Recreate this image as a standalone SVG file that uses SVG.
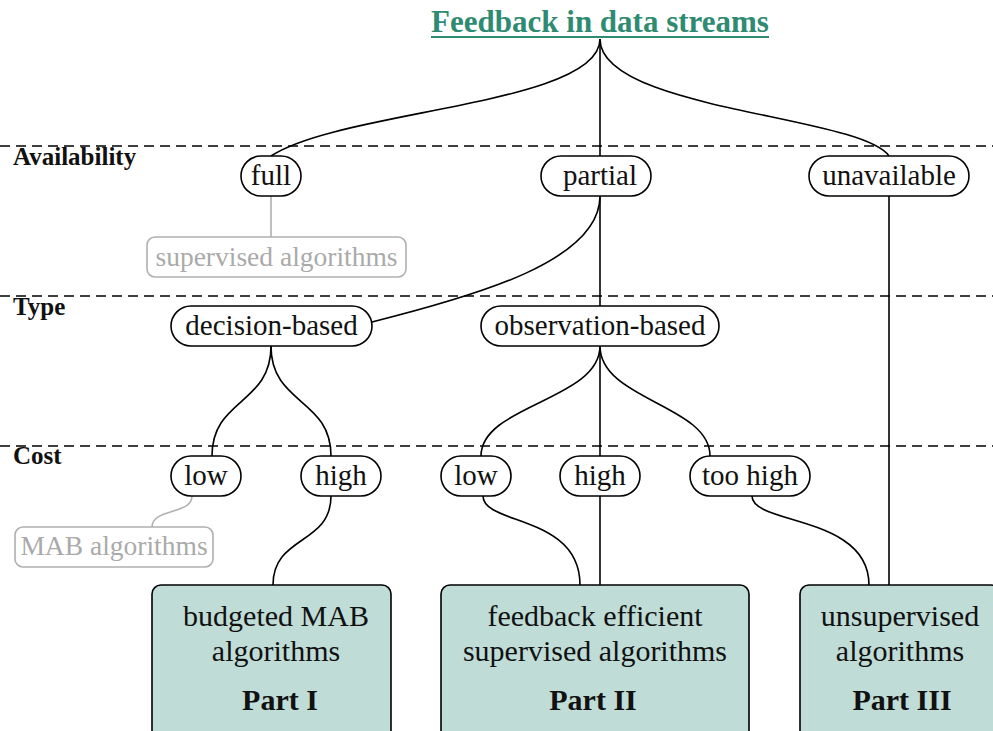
<svg xmlns="http://www.w3.org/2000/svg" width="993" height="731" viewBox="0 0 993 731">
<style>
text{font-family:"Liberation Serif","Times New Roman",serif;}
.t{font-size:29px;fill:#111;text-anchor:middle;}
.g{font-size:27.5px;fill:#aaaaaa;text-anchor:middle;}
.b{font-size:30px;fill:#111;text-anchor:middle;}
.bb{font-size:30px;font-weight:bold;fill:#111;text-anchor:middle;}
.lab{font-size:25px;font-weight:bold;fill:#111;}
.pill{fill:#fff;stroke:#000;stroke-width:1.6;}
.gbox{fill:#fff;stroke:#b0b0b0;stroke-width:1.6;}
.part{fill:#c0dcd6;stroke:#000;stroke-width:1.6;}
.c{fill:none;stroke:#000;stroke-width:1.6;}
.cg{fill:none;stroke:#b0b0b0;stroke-width:1.6;}
.dash{stroke:#000;stroke-width:1.5;stroke-dasharray:10,6;}
</style>
<rect width="993" height="731" fill="#fff"/>
<g id="levels">
<line class="dash" x1="0" y1="146" x2="993" y2="146"/>
<line class="dash" x1="0" y1="296" x2="993" y2="296"/>
<line class="dash" x1="0" y1="446" x2="993" y2="446"/>
<text class="lab" x="13" y="165">Availability</text>
<text class="lab" x="13" y="315">Type</text>
<text class="lab" x="13" y="464">Cost</text>
</g>
<g id="connectors">
<path class="c" d="M600,39 C600,105 340,110 271,156"/>
<path class="c" d="M600,39 L600,156"/>
<path class="c" d="M600,39 C600,110 860,115 889,156"/>
<path class="cg" d="M271,196 L271,237"/>
<path class="c" d="M600,196 C600,260 480,295 372,322"/>
<path class="c" d="M600,196 L600,306"/>
<path class="c" d="M889,196 L889,585"/>
<path class="c" d="M271,346 C271,405 212,398 212,456"/>
<path class="c" d="M271,346 C271,405 331,398 331,456"/>
<path class="c" d="M600,346 C600,400 481,405 481,456"/>
<path class="c" d="M600,346 L600,456"/>
<path class="c" d="M600,346 C600,400 710,405 710,456"/>
<path class="cg" d="M192,496 C192,515 152,508 152,527"/>
<path class="c" d="M331,496 C331,545 273,535 273,585"/>
<path class="c" d="M483,496 C483,525 580,515 580,585"/>
<path class="c" d="M600,496 L600,585"/>
<path class="c" d="M752,496 C752,525 869,515 869,585"/>
</g>
<g id="title">
<text x="600" y="32" style="font-size:31px;font-weight:bold;fill:#2e8b72;text-anchor:middle;">Feedback in data streams</text>
<line x1="431" y1="37" x2="769" y2="37" stroke="#2e8b72" stroke-width="2"/>
</g>
<g id="full"><rect class="pill" x="241" y="156" width="60" height="40" rx="20"/><text class="t" x="271" y="185">full</text></g>
<g id="partial"><rect class="pill" x="541" y="156" width="110" height="40" rx="20"/><text class="t" x="600" y="185">partial</text></g>
<g id="unavailable"><rect class="pill" x="809" y="156" width="160" height="40" rx="20"/><text class="t" x="889" y="185">unavailable</text></g>
<g id="supervised"><rect class="gbox" x="147" y="237" width="259" height="40" rx="8"/><text class="g" x="276.5" y="266">supervised algorithms</text></g>
<g id="decision"><rect class="pill" x="171" y="306" width="201" height="40" rx="20"/><text class="t" x="271.5" y="335">decision-based</text></g>
<g id="observation"><rect class="pill" x="481" y="306" width="238" height="40" rx="20"/><text class="t" x="600" y="335">observation-based</text></g>
<g id="low1"><rect class="pill" x="171" y="456" width="70" height="40" rx="20"/><text class="t" x="206" y="485">low</text></g>
<g id="high1"><rect class="pill" x="301" y="456" width="80" height="40" rx="20"/><text class="t" x="341" y="485">high</text></g>
<g id="low2"><rect class="pill" x="441" y="456" width="70" height="40" rx="20"/><text class="t" x="476" y="485">low</text></g>
<g id="high2"><rect class="pill" x="560" y="456" width="80" height="40" rx="20"/><text class="t" x="600" y="485">high</text></g>
<g id="toohigh"><rect class="pill" x="690" y="456" width="120" height="40" rx="20"/><text class="t" x="750" y="485">too high</text></g>
<g id="mab"><rect class="gbox" x="15" y="527" width="198" height="40" rx="8"/><text class="g" x="114" y="555">MAB algorithms</text></g>
<g id="part1"><rect class="part" x="152" y="585" width="239" height="160" rx="9"/>
<text class="b" x="276" y="626">budgeted MAB</text><text class="b" x="276" y="661">algorithms</text><text class="bb" x="280" y="710">Part I</text></g>
<g id="part2"><rect class="part" x="441" y="585" width="308" height="160" rx="9"/>
<text class="b" x="595" y="626">feedback efficient</text><text class="b" x="595" y="661">supervised algorithms</text><text class="bb" x="593" y="710">Part II</text></g>
<g id="part3"><rect class="part" x="800" y="585" width="200" height="160" rx="9"/>
<text class="b" x="900" y="626">unsupervised</text><text class="b" x="900" y="661">algorithms</text><text class="bb" x="902" y="710">Part III</text></g>
</svg>
